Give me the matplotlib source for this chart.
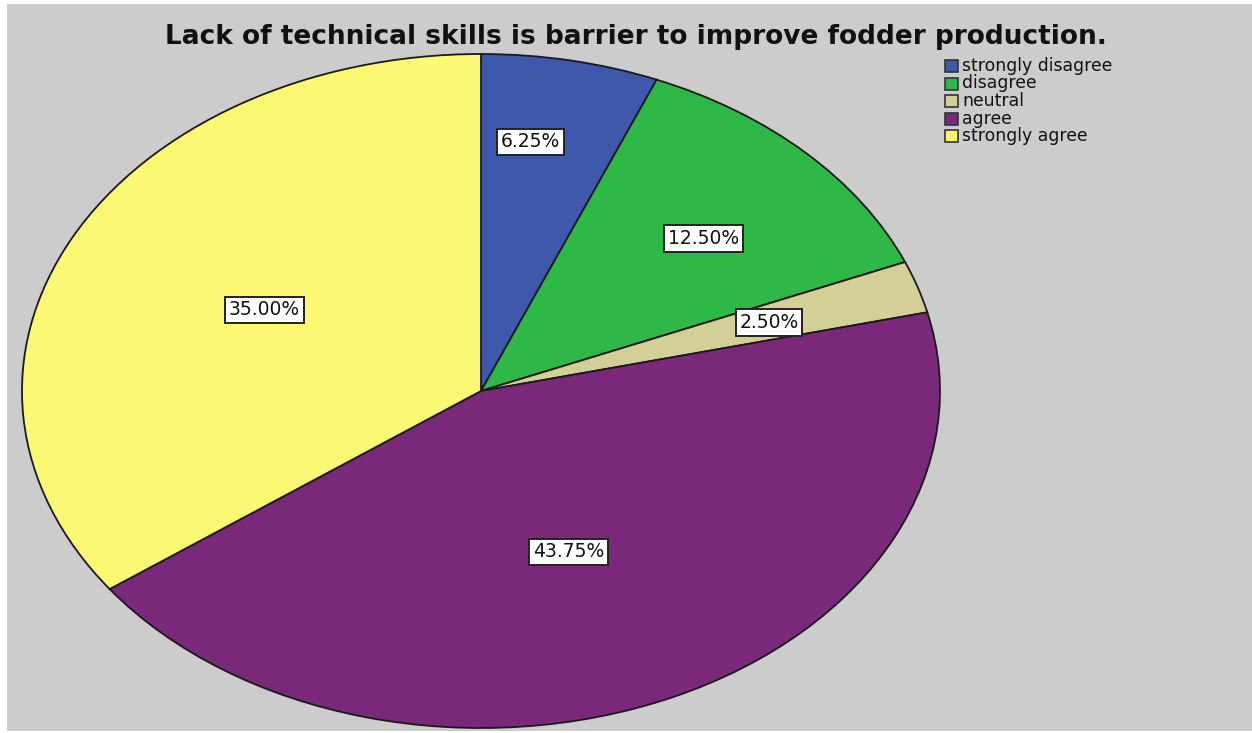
import numpy as np
import matplotlib.pyplot as plt
from matplotlib.patches import Rectangle

plt.rcParams['font.family'] = ['DejaVu Sans']

categories = ['strongly disagree', 'disagree', 'neutral', 'agree', 'strongly agree']
percents = [6.25, 12.50, 2.50, 43.75, 35.00]
colors = ['#3e58ac', '#2eb848', '#d4cf97', '#7a287a', '#fbf873']
# label placement per slice: distance from centre and angle nudge (deg)
label_r = [0.747, 0.663, 0.66, 0.514, 0.53]
label_nudge = [3, -2, 0, -3, 0]

W, H = 1252, 733
fig = plt.figure(figsize=(W / 100, H / 100), dpi=100)
fig.patch.set_facecolor('white')
fig.patches.append(Rectangle((7 / W, 2 / H), 1 - 7 / W, (730 - 3) / H,
                             transform=fig.transFigure, facecolor='#cccccc',
                             edgecolor='none', zorder=-5))

# pie centre (481, 391), radii 459 x 337 px -> elliptical
cx, cy, rx, ry = 481, 391, 459, 337
ax = fig.add_axes([(cx - rx) / W, (H - cy - ry) / H, 2 * rx / W, 2 * ry / H])
ax.set_zorder(2)
ax.set_facecolor('none')
wedges, _ = ax.pie(percents, colors=colors, startangle=90, counterclock=False,
                   radius=1, wedgeprops=dict(edgecolor='#1a1a1a', linewidth=1.3))
ax.set_xlim(-1, 1)
ax.set_ylim(-1, 1)
ax.set_aspect('auto')
ax.axis('off')

for w, p, r, d in zip(wedges, percents, label_r, label_nudge):
    ang = np.deg2rad((w.theta1 + w.theta2) / 2 + d)
    ax.text(r * np.cos(ang), r * np.sin(ang), f'{p:.2f}%', ha='center', va='center',
            fontsize=13.5, color='#111111',
            bbox=dict(boxstyle='square,pad=0.2', facecolor='white',
                      edgecolor='#222222', linewidth=1.4))

fig.text(636 / W, 1 - 37 / H, 'Lack of technical skills is barrier to improve fodder production.',
         ha='center', va='center', fontsize=19, fontweight='bold', color='#111111')

# legend
for i, (c, name) in enumerate(zip(colors, categories)):
    y = 66 + i * 17.5
    fig.patches.append(Rectangle((945 / W, 1 - (y + 6) / H), 13 / W, 12 / H,
                                 transform=fig.transFigure, facecolor=c,
                                 edgecolor='#333333', linewidth=1.2, zorder=3))
    fig.text(962 / W, 1 - y / H, name, ha='left', va='center', fontsize=12.4,
             color='#111111')

fig.savefig('out.png', dpi=100)
